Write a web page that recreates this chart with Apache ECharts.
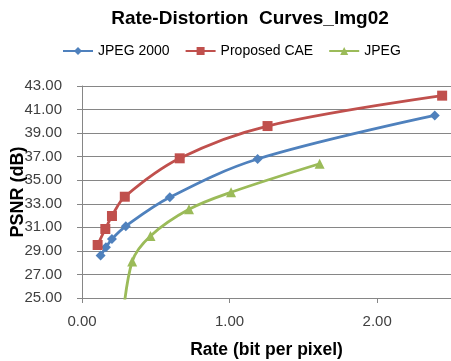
<!DOCTYPE html>
<html><head><meta charset="utf-8">
<script src="https://cdn.jsdelivr.net/npm/echarts@6/dist/echarts.min.js"></script>
<style>html,body{margin:0;padding:0;background:#fff}#c{width:451px;height:361px}</style>
</head><body><div id="c"></div>
<script>
const titleText = 'Rate-Distortion  Curves_Img02';
const seriesNames = ['JPEG 2000', 'Proposed CAE', 'JPEG'];
const jp2kRate = [0.126, 0.162, 0.203, 0.297, 0.595, 1.19, 2.39];
const jp2kPsnr = [28.6, 29.3, 30.0, 31.1, 33.55, 36.8, 40.5];
const caeRate = [0.106, 0.158, 0.203, 0.29, 0.662, 1.257, 2.44];
const caePsnr = [29.5, 30.86, 31.96, 33.6, 36.86, 39.6, 42.18];
const jpegRate = [0.27, 0.34, 0.464, 0.725, 1.01, 1.61];
const jpegPsnr = [22.5, 28.1, 30.27, 32.53, 33.98, 36.4];
const xName = 'Rate (bit per pixel)';
const yName = 'PSNR (dB)';

const pairs = (xs, ys) => xs.map((x, i) => [x, ys[i]]);
const font = 'Liberation Sans';
const chart = echarts.init(document.getElementById('c'));
const mk = (name, data, color, symbol, size) => ({
  name, type: 'line', data, smooth: 0.35, clip: true,
  symbol, symbolSize: size, showAllSymbol: true,
  lineStyle: { color, width: 2.8 }, itemStyle: { color },
});
chart.setOption({
  animation: false,
  title: { text: titleText, left: 245, top: 4, textAlign: 'center',
    textStyle: { fontFamily: font, fontWeight: 'bold', fontSize: 19, color: '#000' } },
  legend: { top: 39, left: 57, itemGap: 15, itemWidth: 30, itemHeight: 10,
    textStyle: { fontFamily: font, fontSize: 14, color: '#000' }, data: seriesNames },
  grid: { left: 82, right: 0, top: 86, bottom: 63, outerBoundsMode: 'none', containLabel: false },
  xAxis: { type: 'value', min: 0, max: 2.5, interval: 1,
    name: xName, nameLocation: 'middle', nameGap: 43, nameMoveOverlap: false,
    nameTextStyle: { fontFamily: font, fontWeight: 'bold', fontSize: 17.5, color: '#000' },
    axisLine: { lineStyle: { color: '#868686' } },
    axisTick: { show: true, length: 5, lineStyle: { color: '#868686' } },
    axisLabel: { fontFamily: font, fontSize: 15, color: '#404040', margin: 16, showMaxLabel: false,
      formatter: v => v.toFixed(2) },
    splitLine: { show: false } },
  yAxis: { type: 'value', min: 25, max: 43, interval: 2,
    name: yName, nameLocation: 'middle', nameGap: 55, nameMoveOverlap: false,
    nameTextStyle: { fontFamily: font, fontWeight: 'bold', fontSize: 18, color: '#000' },
    axisLine: { show: true, lineStyle: { color: '#868686' } },
    axisTick: { show: true, length: 5, lineStyle: { color: '#868686' } },
    axisLabel: { fontFamily: font, fontSize: 15, color: '#404040', margin: 20,
      formatter: v => v.toFixed(2) },
    splitLine: { show: true, lineStyle: { color: '#868686', width: 1 } } },
  series: [
    mk(seriesNames[0], pairs(jp2kRate, jp2kPsnr), '#4F81BD', 'diamond', 10),
    mk(seriesNames[1], pairs(caeRate, caePsnr), '#C0504D', 'rect', 10),
    mk(seriesNames[2], pairs(jpegRate, jpegPsnr), '#9BBB59', 'triangle', 10),
  ],
});
</script></body></html>
